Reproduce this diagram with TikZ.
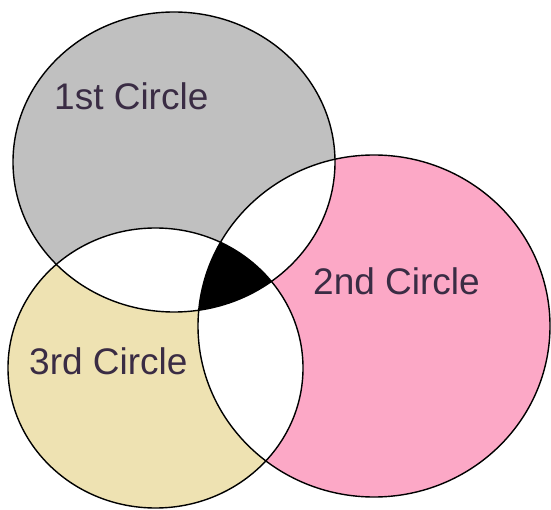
\documentclass[tikz,border=0pt]{standalone}
\usepackage{fontspec}
\setmainfont{Liberation Sans}
\definecolor{grayfill}{RGB}{192,192,192}
\definecolor{pinkfill}{RGB}{252,168,198}
\definecolor{beigefill}{RGB}{238,226,178}
\definecolor{labeltext}{RGB}{58,44,68}
\tikzset{
  outline/.style={draw=black, line width=1.4pt},
  label text/.style={anchor=base west, inner sep=0pt, text=labeltext, font=\fontsize{37pt}{41pt}\selectfont}
}
\def\cA{(174,162) ellipse [x radius=161pt, y radius=150pt]}
\def\cB{(374,326) ellipse [x radius=176pt, y radius=171pt]}
\def\cC{(155.5,368) ellipse [x radius=147.5pt, y radius=140pt]}
\begin{document}
\begin{tikzpicture}[x=1pt, y=-1pt]
\useasboundingbox (0,0) rectangle (551,510);
\fill[white] (0,0) rectangle (551,510);
% single regions
\fill[grayfill] \cA;
\fill[pinkfill] \cB;
\fill[beigefill] \cC;
% pairwise overlaps
\begin{scope}
  \clip \cA;
  \fill[white] \cB;
  \fill[white] \cC;
\end{scope}
\begin{scope}
  \clip \cB;
  \fill[white] \cC;
\end{scope}
% triple overlap
\begin{scope}
  \clip \cA;
  \clip \cB;
  \fill[black] \cC;
\end{scope}
% outlines
\draw[outline] \cA;
\draw[outline] \cB;
\draw[outline] \cC;
% labels
\node[label text] (first) at (54,110) {1st Circle};
\node[label text] (second) at (313,295) {2nd Circle};
\node[label text] (third) at (29,374) {3rd Circle};
\end{tikzpicture}
\end{document}
